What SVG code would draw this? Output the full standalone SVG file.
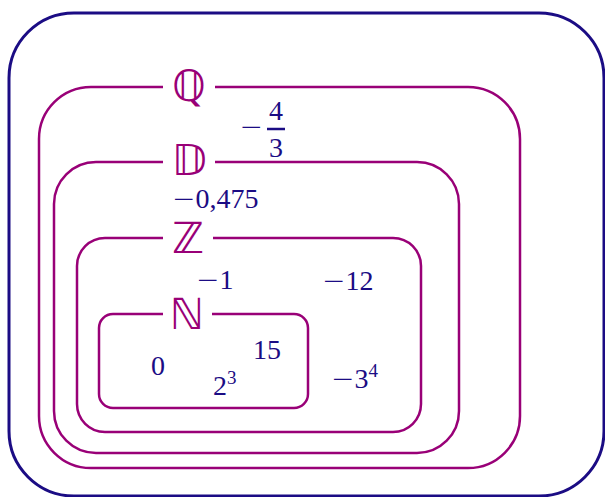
<svg xmlns="http://www.w3.org/2000/svg" width="605" height="497" viewBox="0 0 605 497">
<style>
.set{fill:none;stroke:#990077;stroke-width:2.5}
.lbl{font-family:"DejaVu Sans",serif;font-size:43px;fill:#990077;text-anchor:middle}
.num{font-family:"Liberation Serif",serif;font-size:28px;fill:#1B0C84}
.sup{font-size:19px}
.m{font-family:"DejaVu Sans",sans-serif;font-weight:200}
</style>
<rect id="universe" x="9" y="13" width="595" height="483" rx="65" ry="65" fill="none" stroke="#1B0C84" stroke-width="3"/>
<g id="setQ">
<path class="set" d="M215,87 H468 A52,52 0 0 1 520,139 V416 A52,52 0 0 1 468,468 H91 A52,52 0 0 1 39,416 V139 A52,52 0 0 1 91,87 H163"/>
<text class="lbl" x="189" y="101">ℚ</text>
</g>
<g id="setD">
<path class="set" d="M215,162 H417 A42,42 0 0 1 459,204 V411 A42,42 0 0 1 417,453 H96 A42,42 0 0 1 54,411 V204 A42,42 0 0 1 96,162 H163"/>
<text class="lbl" x="189" y="175" font-size="42">𝔻</text>
</g>
<g id="setZ">
<path class="set" d="M213,238 H393 A28,28 0 0 1 421,266 V404 A28,28 0 0 1 393,432 H105 A28,28 0 0 1 77,404 V266 A28,28 0 0 1 105,238 H163"/>
<text class="lbl" x="188" y="253">ℤ</text>
</g>
<g id="setN">
<path class="set" d="M212,314 H294 A14,14 0 0 1 308,328 V394 A14,14 0 0 1 294,408 H113 A14,14 0 0 1 99,394 V328 A14,14 0 0 1 113,314 H163"/>
<text class="lbl" x="187" y="329">ℕ</text>
</g>
<g id="numbers">
<text class="num" x="263" y="136" text-anchor="end"><tspan class="m">−</tspan></text>
<text class="num" x="276" y="120" text-anchor="middle">4</text>
<line x1="267" y1="129" x2="285" y2="129" stroke="#1B0C84" stroke-width="2.5"/>
<text class="num" x="276" y="157" text-anchor="middle">3</text>
<text class="num" x="172" y="208"><tspan class="m">−</tspan>0,475</text>
<text class="num" x="196" y="289"><tspan class="m">−</tspan>1</text>
<text class="num" x="322" y="290"><tspan class="m">−</tspan>12</text>
<text class="num" x="253" y="359">15</text>
<text class="num" x="151" y="375">0</text>
<text class="num" x="213" y="395">2<tspan class="sup" dy="-11">3</tspan></text>
<text class="num" x="331" y="388"><tspan class="m">−</tspan>3<tspan class="sup" dy="-11">4</tspan></text>
</g>
</svg>
